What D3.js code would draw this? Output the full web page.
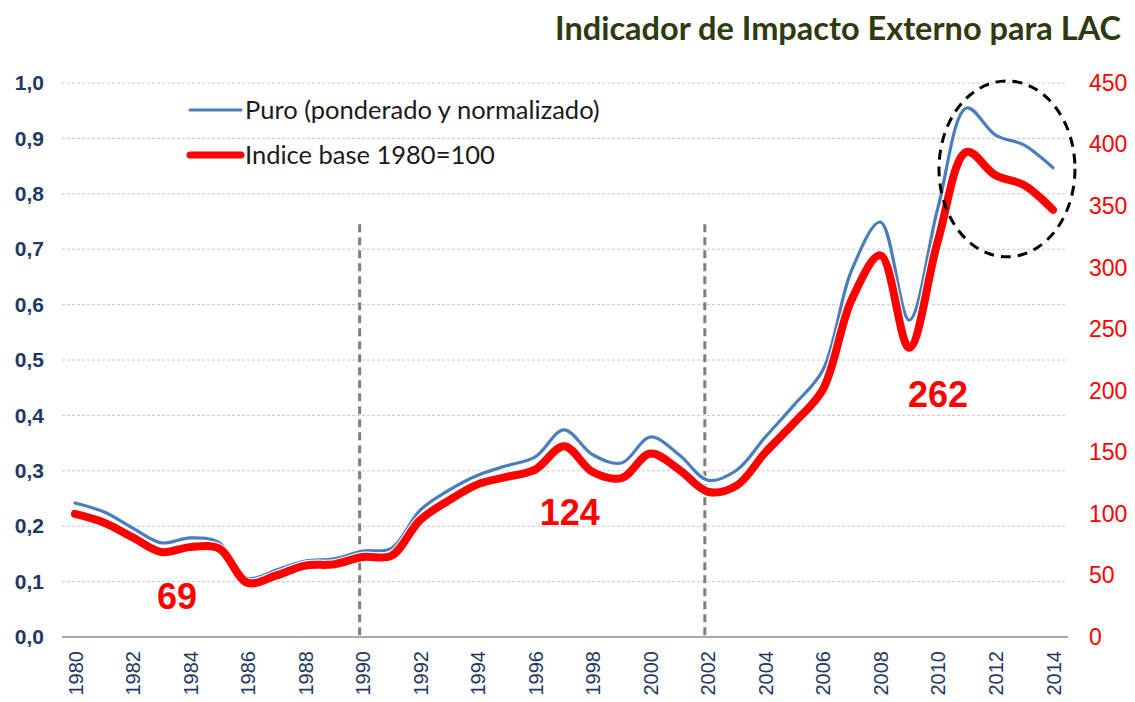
<!DOCTYPE html>
<html>
<head>
<meta charset="utf-8">
<script src="https://cdn.jsdelivr.net/npm/d3@7"></script>
<style>
  body { margin: 0; background: #fff; }
  #chart svg { display: block; }
</style>
</head>
<body>
<div id="chart"></div>
<script>
const years = d3.range(1980, 2015);
const puro = [0.242, 0.226, 0.197, 0.170, 0.179, 0.171, 0.106, 0.121, 0.137, 0.141,
              0.155, 0.160, 0.229, 0.265, 0.292, 0.309, 0.325, 0.374, 0.329, 0.314,
              0.361, 0.329, 0.283, 0.301, 0.361, 0.419, 0.482, 0.662, 0.749, 0.572,
              0.775, 0.955, 0.906, 0.888, 0.847];
const indice = [100, 93, 81, 69, 73, 72, 44, 50, 58, 59,
                65, 66, 95, 111, 124, 130, 136, 155, 134, 129,
                149, 136, 118, 123, 150, 174, 201, 274, 310, 235,
                322, 394, 375, 367, 347];
const leftTicks = d3.range(0, 11).map(d => d / 10);
const rightTicks = d3.range(0, 451, 50);
const xTicks = d3.range(1980, 2015, 2);
const markerYears = [1990, 2002];
// label text and where it sits (in right-axis units)
const callouts = [
  { year: 1983.55, pos: 23, label: "69" },
  { year: 1997.2, pos: 91, label: "124" },
  { year: 2010.0, pos: 187, label: "262" }
];
const legendItems = ["Puro (ponderado y normalizado)", "Indice base 1980=100"];

const width = 1135, height = 702;
const margin = { top: 83, right: 82, bottom: 65, left: 75 };

const svg = d3.select("#chart").append("svg")
  .attr("width", width)
  .attr("height", height);

const x = d3.scaleLinear().domain([1980, 2014]).range([margin.left, width - margin.right]);
const yL = d3.scaleLinear().domain([0, 1]).range([height - margin.bottom, margin.top]);
const yR = d3.scaleLinear().domain([0, 450]).range([height - margin.bottom, margin.top]);

const gridLeft = 62, gridRight = 1066;

// gridlines
svg.append("g")
  .selectAll("line")
  .data(leftTicks.slice(1))
  .join("line")
  .attr("x1", gridLeft).attr("x2", gridRight)
  .attr("y1", d => yL(d)).attr("y2", d => yL(d))
  .attr("stroke", "#c8c8c8")
  .attr("stroke-width", 1)
  .attr("stroke-dasharray", "3,2");

// baseline
svg.append("line")
  .attr("x1", gridLeft).attr("x2", gridRight + 2)
  .attr("y1", yL(0)).attr("y2", yL(0))
  .attr("stroke", "#8c8c8c").attr("stroke-width", 1.5);

// left axis
const leftAxis = svg.append("g")
  .attr("transform", `translate(44,0)`)
  .call(d3.axisLeft(yL).tickValues(leftTicks).tickSize(0).tickPadding(0)
    .tickFormat(d => d3.format(".1f")(d).replace(".", ",")));
leftAxis.select(".domain").remove();
leftAxis.selectAll("text")
  .attr("fill", "#1f3864")
  .style("font-family", "'Liberation Sans', Arial, sans-serif")
  .style("font-size", "21px")
  .style("font-weight", "bold");

// right axis
const rightAxis = svg.append("g")
  .attr("transform", `translate(1089,0)`)
  .call(d3.axisRight(yR).tickValues(rightTicks).tickSize(0).tickPadding(0));
rightAxis.select(".domain").remove();
rightAxis.selectAll("text")
  .attr("fill", "#ff0000")
  .style("font-family", "'Liberation Sans', Arial, sans-serif")
  .style("font-size", "23px");

// x axis
const xAxis = svg.append("g")
  .attr("transform", `translate(0,${yL(0)})`)
  .call(d3.axisBottom(x).tickValues(xTicks).tickSize(0).tickFormat(d3.format("d")));
xAxis.select(".domain").remove();
xAxis.selectAll("text")
  .attr("transform", "rotate(-90)")
  .attr("x", -14)
  .attr("y", 0)
  .attr("dy", "0.35em")
  .style("text-anchor", "end")
  .attr("fill", "#1f3864")
  .style("font-family", "'Liberation Sans', Arial, sans-serif")
  .style("font-size", "20px");

// vertical dashed markers
svg.append("g")
  .selectAll("line")
  .data(markerYears)
  .join("line")
  .attr("x1", d => x(d) - 3).attr("x2", d => x(d) - 3)
  .attr("y1", yL(0.745)).attr("y2", yL(0))
  .attr("stroke", "#7f7f7f")
  .attr("stroke-width", 3)
  .attr("stroke-dasharray", "8,5");

const linePuro = d3.line()
  .x((d, i) => x(years[i]))
  .y(d => yL(d))
  .curve(d3.curveCatmullRom.alpha(0.5));

const lineIndice = d3.line()
  .x((d, i) => x(years[i]))
  .y(d => yR(d))
  .curve(d3.curveCatmullRom.alpha(0.5));

// halo + lines
svg.append("path").datum(puro).attr("d", linePuro)
  .attr("fill", "none").attr("stroke", "#ffffff").attr("stroke-width", 6).attr("opacity", 0.9);
svg.append("path").datum(puro).attr("d", linePuro)
  .attr("fill", "none").attr("stroke", "#4a7ebb").attr("stroke-width", 3.2)
  .attr("stroke-linejoin", "round").attr("stroke-linecap", "round");

svg.append("path").datum(indice).attr("d", lineIndice)
  .attr("fill", "none").attr("stroke", "#ffffff").attr("stroke-width", 10.5).attr("opacity", 0.9);
svg.append("path").datum(indice).attr("d", lineIndice)
  .attr("fill", "none").attr("stroke", "#ff0000").attr("stroke-width", 8)
  .attr("stroke-linejoin", "round").attr("stroke-linecap", "round");

// dashed ellipse around the latest years
svg.append("ellipse")
  .attr("cx", x(2012.4))
  .attr("cy", yL(0.845))
  .attr("rx", 68)
  .attr("ry", 88)
  .attr("fill", "none")
  .attr("stroke", "#000")
  .attr("stroke-width", 3)
  .attr("stroke-dasharray", "10,7");

// callout numbers
svg.append("g")
  .selectAll("text")
  .data(callouts)
  .join("text")
  .attr("x", d => x(d.year))
  .attr("y", d => yR(d.pos))
  .attr("text-anchor", "middle")
  .attr("fill", "#ff0000")
  .style("font-family", "'Liberation Sans', Arial, sans-serif")
  .style("font-size", "36px")
  .style("font-weight", "bold")
  .text(d => d.label);

// title
svg.append("text")
  .attr("x", 1121)
  .attr("y", 40)
  .attr("text-anchor", "end")
  .attr("fill", "#2e3a10")
  .style("font-family", "Lato, 'Open Sans', sans-serif")
  .style("font-size", "32.5px")
  .style("font-weight", "bold")
  .text("Indicador de Impacto Externo para LAC");

// legend
const legend = svg.append("g").attr("transform", "translate(190,110)");
legend.selectAll("line")
  .data(legendItems)
  .join("line")
  .attr("x1", 0).attr("x2", 51)
  .attr("y1", (d, i) => i * 45).attr("y2", (d, i) => i * 45)
  .attr("stroke", (d, i) => i === 0 ? "#4a7ebb" : "#ff0000")
  .attr("stroke-width", (d, i) => i === 0 ? 3 : 7)
  .attr("stroke-linecap", "round");
legend.selectAll("text")
  .data(legendItems)
  .join("text")
  .attr("x", 55)
  .attr("y", (d, i) => i * 45)
  .attr("dy", "0.35em")
  .attr("fill", "#1a1a1a")
  .style("font-family", "Lato, 'Open Sans', sans-serif")
  .style("font-size", "25.5px")
  .text(d => d);
</script>
</body>
</html>
